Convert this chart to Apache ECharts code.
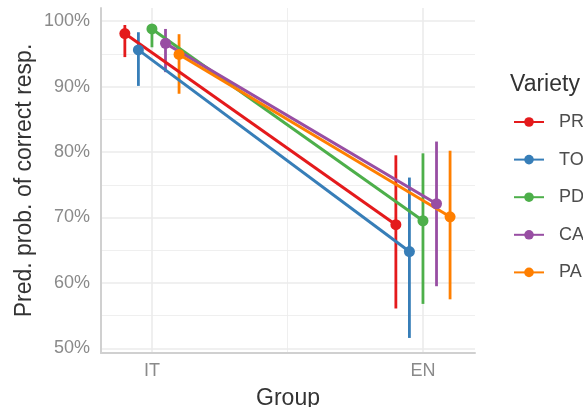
<!DOCTYPE html>
<html>
<head>
<meta charset="utf-8">
<script src="https://cdn.jsdelivr.net/npm/echarts@6/dist/echarts.min.js"></script>
<style>
  html, body { margin: 0; padding: 0; background: #fff; }
  #chart { width: 583px; height: 407px; }
</style>
</head>
<body>
<div id="chart"></div>
<script>
// 数据
const groups = ['IT', 'EN'];
const varieties = ['PR', 'TO', 'PD', 'CA', 'PA'];
const colors = ['#E41A1C', '#377EB8', '#4DAF4A', '#984EA3', '#FF7F00'];

// predicted prob. (%) per variety: [IT, EN]
const estPR = [98.1, 68.9];
const estTO = [95.6, 64.8];
const estPD = [98.8, 69.5];
const estCA = [96.6, 72.1];
const estPA = [94.9, 70.1];

// lower / upper bounds of the intervals: [IT, EN]
const lowPR = [94.5, 56.1];
const lowTO = [90.1, 51.6];
const lowPD = [96.0, 56.8];
const lowCA = [92.2, 59.5];
const lowPA = [88.9, 57.5];

const upPR = [99.4, 79.5];
const upTO = [98.3, 76.1];
const upPD = [99.4, 79.8];
const upCA = [98.8, 81.6];
const upPA = [98.0, 80.2];

const yTicks = [50, 60, 70, 80, 90, 100];
const yMinor = [55, 65, 75, 85, 95];

const est = [estPR, estTO, estPD, estCA, estPA];
const low = [lowPR, lowTO, lowPD, lowCA, lowPA];
const up = [upPR, upTO, upPD, upCA, upPA];

const X_MIN = 0.812, X_MAX = 2.192;
const Y_MIN = 49.3, Y_MAX = 102.0;
const DODGE = 0.05;

const chart = echarts.init(document.getElementById('chart'));

// 网格线 (画在最底层)
const gridLines = [];
yTicks.forEach(v => gridLines.push([{ coord: [X_MIN, v], lineStyle: { width: 1.6 } }, { coord: [X_MAX, v] }]));
yMinor.forEach(v => gridLines.push([{ coord: [X_MIN, v], lineStyle: { width: 0.8 } }, { coord: [X_MAX, v] }]));
[1, 2].forEach(v => gridLines.push([{ coord: [v, Y_MIN], lineStyle: { width: 1.6 } }, { coord: [v, Y_MAX] }]));
gridLines.push([{ coord: [1.5, Y_MIN], lineStyle: { width: 0.8 } }, { coord: [1.5, Y_MAX] }]);

const series = [{
  type: 'line',
  name: '_grid',
  data: [],
  silent: true,
  z: 0,
  markLine: {
    silent: true,
    z: 0,
    symbol: 'none',
    label: { show: false },
    lineStyle: { color: '#ebebeb', type: 'solid' },
    animation: false,
    data: gridLines
  }
}];

// 误差线
varieties.forEach((name, i) => {
  const off = (i - 2) * DODGE;
  series.push({
    type: 'custom',
    name: name + '_err',
    data: groups.map((g, j) => [j + 1 + off, low[i][j], up[i][j]]),
    renderItem: (params, api) => {
      const p1 = api.coord([api.value(0), api.value(1)]);
      const p2 = api.coord([api.value(0), api.value(2)]);
      return {
        type: 'line',
        shape: { x1: p1[0], y1: p1[1], x2: p2[0], y2: p2[1] },
        style: { stroke: colors[i], lineWidth: 2.8 }
      };
    },
    z: 3,
    animation: false
  });
});

// 折线和点
varieties.forEach((name, i) => {
  const off = (i - 2) * DODGE;
  series.push({
    type: 'line',
    name: name,
    data: groups.map((g, j) => [j + 1 + off, est[i][j]]),
    symbol: 'circle',
    symbolSize: 11,
    lineStyle: { width: 3, color: colors[i] },
    itemStyle: { color: colors[i] },
    z: 4,
    animation: false
  });
});

chart.setOption({
  backgroundColor: '#ffffff',
  textStyle: { fontFamily: 'Liberation Sans, Arial, sans-serif' },
  title: {
    text: 'Variety',
    left: 505,
    top: 68,
    textStyle: { fontSize: 23, fontWeight: 'normal', color: '#333' }
  },
  legend: {
    orient: 'vertical',
    left: 508,
    top: 108,
    data: varieties,
    itemWidth: 30,
    itemHeight: 12,
    itemGap: 19.6,
    textStyle: { fontSize: 18, color: '#4d4d4d', padding: [0, 0, 0, 10] }
  },
  grid: { left: 101, right: 108, top: 8, bottom: 54, outerBoundsMode: 'none' },
  xAxis: {
    type: 'value',
    min: X_MIN,
    max: X_MAX,
    name: 'Group',
    nameLocation: 'middle',
    nameGap: 34,
    nameMoveOverlap: false,
    nameTextStyle: { fontSize: 23, color: '#333' },
    axisLine: { show: true, onZero: false, lineStyle: { color: '#d0d0d0', width: 2 } },
    axisTick: { show: false, customValues: [1, 2] },
    splitLine: { show: false },
    axisLabel: {
      customValues: [1, 2],
      formatter: v => groups[Math.round(v) - 1],
      fontSize: 18,
      color: '#8a8a8a',
      margin: 9
    }
  },
  yAxis: {
    type: 'value',
    min: Y_MIN,
    max: Y_MAX,
    name: 'Pred. prob. of correct resp.',
    nameLocation: 'middle',
    nameGap: 65,
    nameMoveOverlap: false,
    nameTextStyle: { fontSize: 23, color: '#333' },
    axisLine: { show: true, onZero: false, lineStyle: { color: '#d0d0d0', width: 2 } },
    axisTick: { show: false, customValues: yTicks },
    splitLine: { show: false },
    axisLabel: {
      customValues: yTicks,
      formatter: v => v + '%',
      fontSize: 18,
      color: '#8a8a8a',
      margin: 11
    }
  },
  series: series
});

window.onresize = () => {
  chart.resize();
};
</script>
</body>
</html>
